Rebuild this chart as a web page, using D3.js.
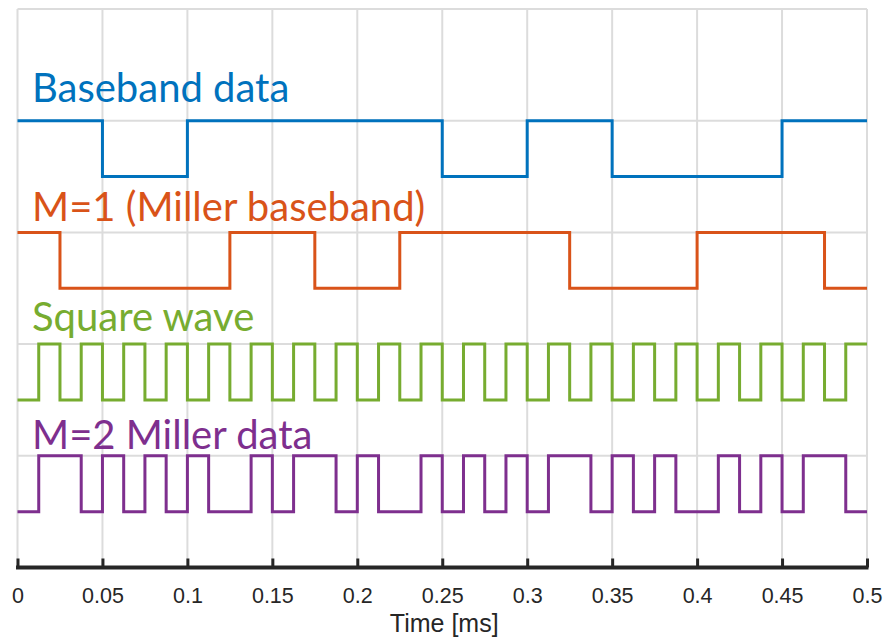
<!DOCTYPE html>
<html>
<head>
<meta charset="utf-8">
<script src="https://cdn.jsdelivr.net/npm/d3@7"></script>
<style>
  html, body { margin: 0; padding: 0; background: #fff; }
  svg { display: block; }
</style>
</head>
<body>
<svg id="chart" width="885" height="640"></svg>
<script>
// ---------------- data ----------------
const xTicks = [0, 0.05, 0.1, 0.15, 0.2, 0.25, 0.3, 0.35, 0.4, 0.45, 0.5];
const xTickLabels = ["0", "0.05", "0.1", "0.15", "0.2", "0.25", "0.3", "0.35", "0.4", "0.45", "0.5"];
const yGridTicks = [0, 2, 4, 6, 8, 10];

const seriesNames = ["Baseband data", "M=1 (Miller baseband)", "Square wave", "M=2 Miller data"];
const seriesColors = ["#0072BD", "#D95319", "#77AC30", "#7E2F8E"];
const seriesBase = [7, 5, 3, 1];          // low level of each trace
const seriesSlot = [0.05, 0.025, 0.0125, 0.0125]; // slot width (ms)

// logic level per slot
const basebandBits = [1, 0, 1, 1, 1, 0, 1, 0, 0, 1];
const millerBaseband = [1, 0, 0, 0, 0, 1, 1, 0, 0, 1, 1, 1, 1, 0, 0, 0, 1, 1, 1, 0];
const squareWave = [0, 1, 0, 1, 0, 1, 0, 1, 0, 1, 0, 1, 0, 1, 0, 1, 0, 1, 0, 1,
                    0, 1, 0, 1, 0, 1, 0, 1, 0, 1, 0, 1, 0, 1, 0, 1, 0, 1, 0, 1];
const millerM2 = [0, 1, 1, 0, 1, 0, 1, 0, 1, 0, 0, 1, 0, 1, 1, 0, 1, 0, 0, 1,
                  0, 1, 0, 1, 0, 1, 1, 0, 1, 0, 1, 0, 0, 1, 0, 1, 0, 1, 1, 0];
const seriesLevels = [basebandBits, millerBaseband, squareWave, millerM2];

// label vertical position (data units above the low level)
const labelOffsets = [1.34, 1.21, 1.24, 1.12];

// ---------------- layout ----------------
const svg = d3.select("#chart");
const x = d3.scaleLinear().domain([0, 0.5]).range([17.5, 867]);
const y = d3.scaleLinear().domain([0, 10]).range([567.5, 9]);

// grid
const grid = svg.append("g");
grid.selectAll("line.v").data(xTicks).join("line")
  .attr("x1", d => x(d)).attr("x2", d => x(d))
  .attr("y1", y(10)).attr("y2", y(0))
  .attr("stroke", "#dcdcdc").attr("stroke-width", 2);
grid.selectAll("line.h").data(yGridTicks.filter(d => d > 0)).join("line")
  .attr("x1", x(0)).attr("x2", x(0.5))
  .attr("y1", d => y(d)).attr("y2", d => y(d))
  .attr("stroke", "#dcdcdc").attr("stroke-width", 2);

// traces
const line = d3.line().x(d => x(d[0])).y(d => y(d[1])).curve(d3.curveStepAfter);
seriesLevels.forEach((levels, i) => {
  const pts = levels.map((v, k) => [k * seriesSlot[i], seriesBase[i] + v]);
  pts.push([0.5, seriesBase[i] + levels[levels.length - 1]]);
  svg.append("path")
    .attr("d", line(pts))
    .attr("fill", "none")
    .attr("stroke", seriesColors[i])
    .attr("stroke-width", 3)
    .attr("stroke-linejoin", "miter");
});

// labels
seriesNames.forEach((name, i) => {
  svg.append("text")
    .attr("x", 32)
    .attr("y", y(seriesBase[i] + labelOffsets[i]))
    .attr("fill", seriesColors[i])
    .attr("font-family", "Lato, 'Open Sans', sans-serif")
    .attr("font-size", 40)
    .text(name);
});

// x axis
const xAxis = d3.axisBottom(x).tickValues(xTicks)
  .tickFormat((d, i) => xTickLabels[i]).tickSize(0).tickPadding(0);
const ax = svg.append("g").attr("transform", `translate(0,${y(0)})`).call(xAxis);
ax.select(".domain").remove();
ax.selectAll(".tick text")
  .attr("y", 35).attr("dy", 0)
  .attr("fill", "#262626")
  .attr("font-family", "'Liberation Sans', Arial, sans-serif")
  .attr("font-size", 21.5);
ax.append("line")
  .attr("x1", x(0) - 1.5).attr("x2", x(0.5) + 1.5)
  .attr("y1", 0).attr("y2", 0)
  .attr("stroke", "#262626").attr("stroke-width", 4);
ax.selectAll(".tick").append("line")
  .attr("y1", 0).attr("y2", -9)
  .attr("stroke", "#262626").attr("stroke-width", 3);

svg.append("text")
  .attr("x", (x(0) + x(0.5)) / 2 + 2)
  .attr("y", 632)
  .attr("text-anchor", "middle")
  .attr("fill", "#262626")
  .attr("font-family", "'Liberation Sans', Arial, sans-serif")
  .attr("font-size", 25)
  .text("Time [ms]");
</script>
</body>
</html>
